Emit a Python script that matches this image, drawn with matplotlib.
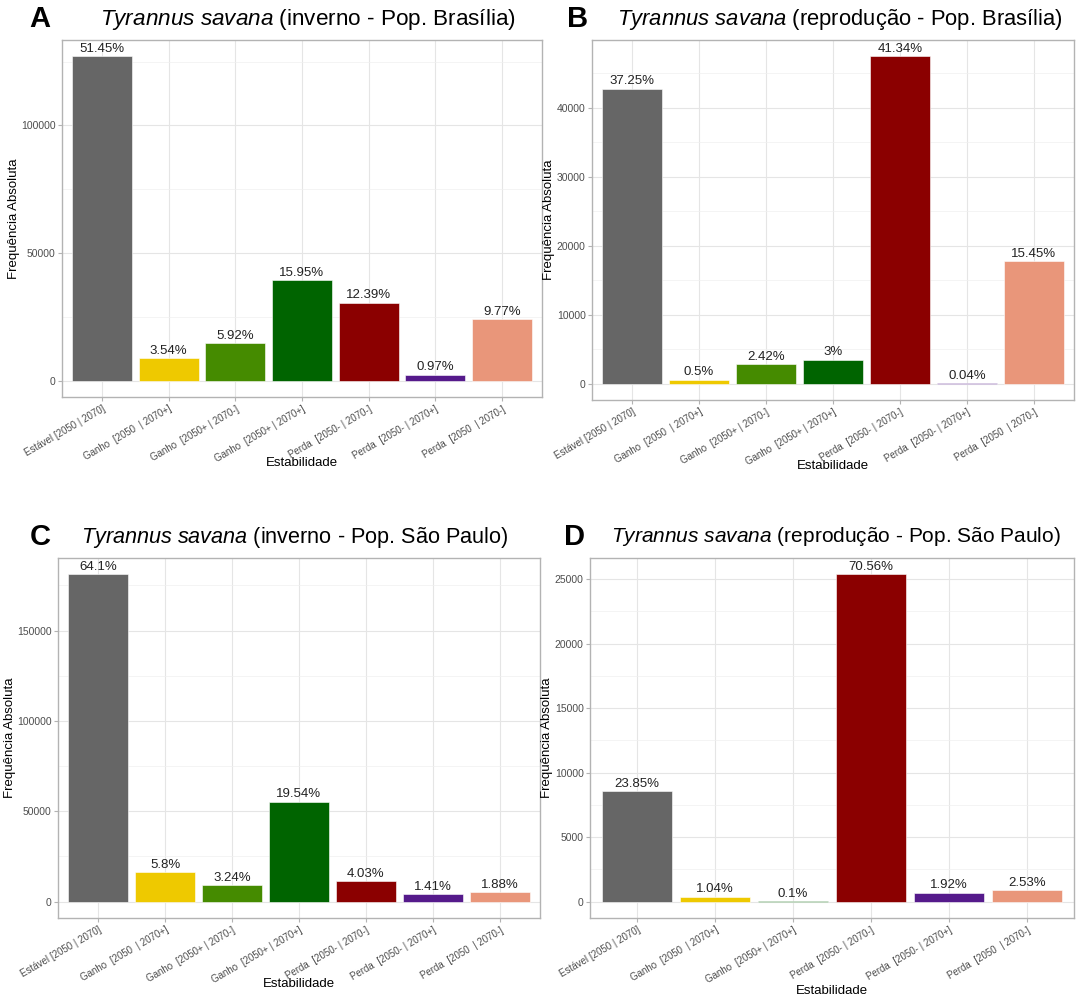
import matplotlib.pyplot as plt
from matplotlib.ticker import MultipleLocator

plt.rcParams['font.family'] = ['Liberation Sans', 'DejaVu Sans']
plt.rcParams['mathtext.fontset'] = 'custom'
plt.rcParams['mathtext.it'] = 'Liberation Sans:italic'
plt.rcParams['mathtext.rm'] = 'Liberation Sans'

# category labels
lab_full = ['Estável [2050 | 2070]', 'Ganho  [2050  | 2070+]', 'Ganho  [2050+ | 2070-]',
            'Ganho  [2050+ | 2070+]', 'Perda  [2050- | 2070-]', 'Perda  [2050- | 2070+]',
            'Perda  [2050  | 2070-]']
lab_d = ['Estável [2050 | 2070]', 'Ganho  [2050  | 2070+]', 'Ganho  [2050+ | 2070+]',
         'Perda  [2050- | 2070-]', 'Perda  [2050- | 2070+]', 'Perda  [2050  | 2070-]']

col_full = ['#666666', '#EEC900', '#458B00', '#006400', '#8B0000', '#551A8B', '#E9967A']
col_d = ['#666666', '#EEC900', '#006400', '#8B0000', '#551A8B', '#E9967A']

# counts and percentage labels
cnt_a = [127100, 8740, 14620, 39400, 30600, 2400, 24130]
pct_a = ['51.45%', '3.54%', '5.92%', '15.95%', '12.39%', '0.97%', '9.77%']
cnt_b = [42760, 574, 2778, 3444, 47460, 46, 17740]
pct_b = ['37.25%', '0.5%', '2.42%', '3%', '41.34%', '0.04%', '15.45%']
cnt_c = [181080, 16385, 9153, 55200, 11385, 3983, 5311]
pct_c = ['64.1%', '5.8%', '3.24%', '19.54%', '4.03%', '1.41%', '1.88%']
cnt_d = [8574, 374, 36, 25366, 690, 910]
pct_d = ['23.85%', '1.04%', '0.1%', '70.56%', '1.92%', '2.53%']

W, H = 1077, 998
fig = plt.figure(figsize=(W / 100, H / 100), dpi=100)


def panel(box, letter, season, pop, labels, counts, pcts, colors, major, minor,
          xpad, title_x, letter_x, title_size):
    x0, y0, x1, y1 = box
    ax = fig.add_axes([x0 / W, 1 - y1 / H, (x1 - x0) / W, (y1 - y0) / H])
    xs = range(len(counts))
    ax.bar(xs, counts, width=0.9, color=colors, edgecolor='white', linewidth=0.4, zorder=3)
    for x, c, p in zip(xs, counts, pcts):
        ax.annotate(p, (x, c), xytext=(0, 1), textcoords='offset points',
                    ha='center', va='bottom', fontsize=9.5, color='#222222', zorder=4)
    top = max(counts)
    ax.set_ylim(-0.05 * top, 1.05 * top)
    ax.set_xlim(-0.6, len(counts) - 0.4)
    ax.set_xticks(list(xs))
    ax.set_xticklabels(labels, rotation=30, ha='right', rotation_mode='anchor',
                       fontsize=7, color='#4D4D4D')
    ax.yaxis.set_major_locator(MultipleLocator(major))
    ax.yaxis.set_minor_locator(MultipleLocator(minor))
    ax.tick_params(axis='y', labelsize=7.5, labelcolor='#4D4D4D', color='#B3B3B3',
                   length=3, pad=1.5)
    ax.tick_params(axis='x', color='#B3B3B3', length=3, pad=2)
    ax.tick_params(axis='y', which='minor', length=0)
    ax.grid(True, which='major', color='#E5E5E5', linewidth=0.8, zorder=0)
    ax.grid(True, which='minor', axis='y', color='#F0F0F0', linewidth=0.5, zorder=0)
    for s in ax.spines.values():
        s.set_color('#B3B3B3')
        s.set_linewidth(1.0)
    ax.set_xlabel('Estabilidade', fontsize=9.5, labelpad=xpad)
    ax.set_ylabel('Frequência Absoluta', fontsize=9.5, labelpad=1)
    ty = 1 - (y0 - 21) / H
    fig.text(title_x / W, ty, '$\\it{Tyrannus\\ savana}$ (' + season + ' - Pop. ' + pop + ')',
             ha='center', va='center', fontsize=title_size)
    fig.text(letter_x / W, ty, letter, ha='left', va='center', fontsize=21,
             fontweight='bold')
    return ax


panel((62, 40, 542, 397), 'A', 'inverno', 'Brasília', lab_full, cnt_a, pct_a, col_full,
      50000, 25000, -5, 308, 29, 16.2)
panel((592, 40, 1074, 400), 'B', 'reprodução', 'Brasília', lab_full, cnt_b, pct_b, col_full,
      10000, 5000, -5, 840, 567, 15.8)
panel((58, 558, 540, 918), 'C', 'inverno', 'São Paulo', lab_full, cnt_c, pct_c, col_full,
      50000, 25000, -5, 295, 30, 15.6)
panel((590, 558, 1074, 918), 'D', 'reprodução', 'São Paulo', lab_d, cnt_d, pct_d, col_d,
      5000, 2500, 0, 836, 564, 15.0)

plt.savefig('out.png', dpi=100)
